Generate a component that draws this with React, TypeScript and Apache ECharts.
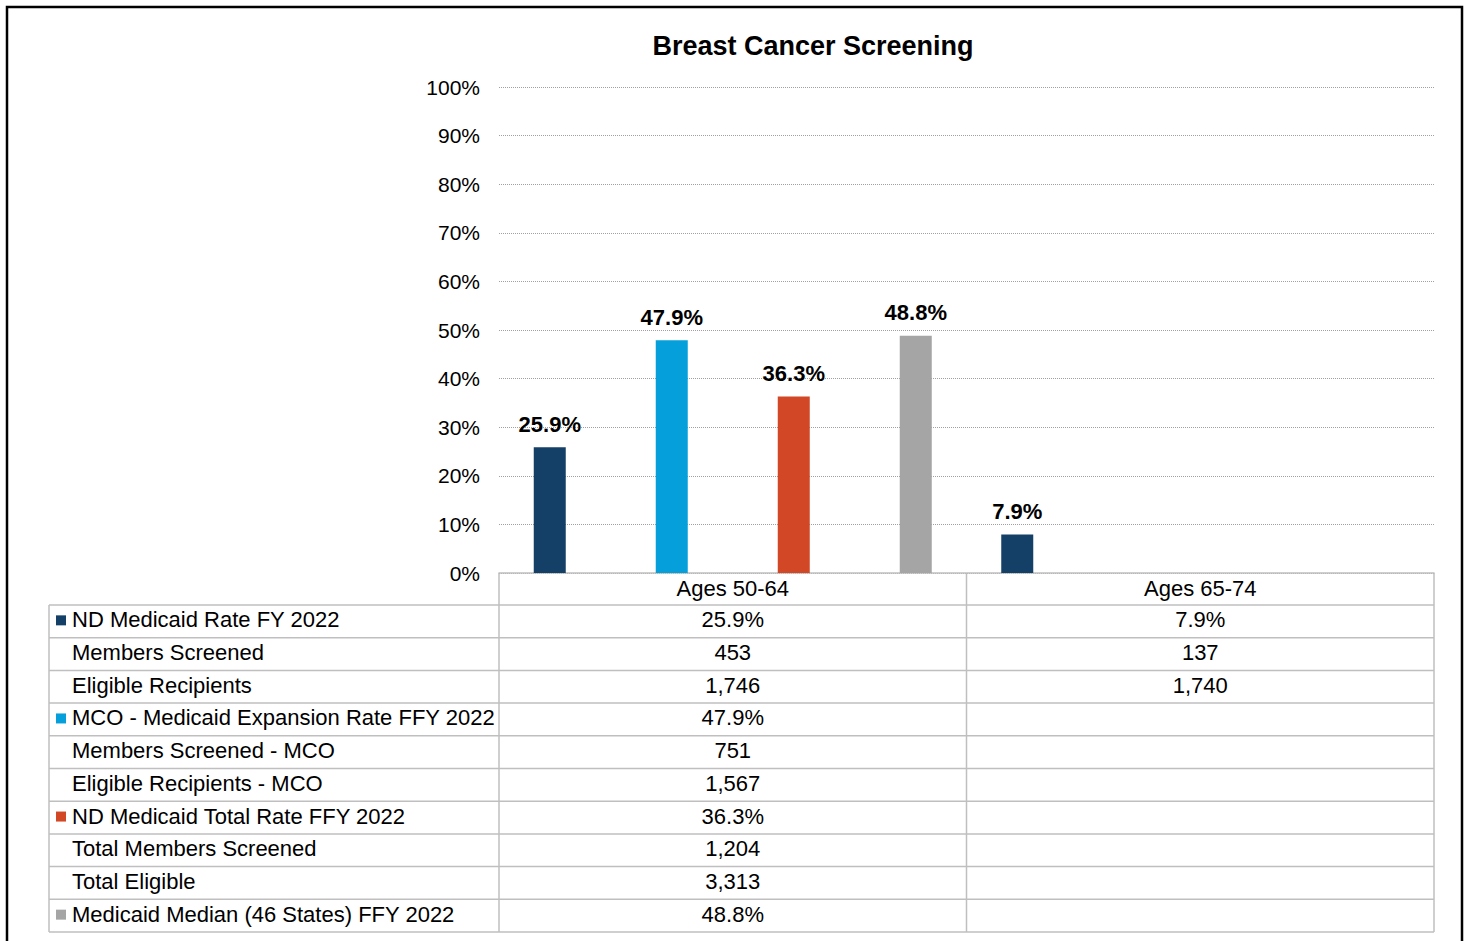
import React, { useEffect, useRef } from "react";
import * as echarts from "echarts";

const categories = ["Ages 50-64", "Ages 65-74"];
const ndRate = [25.9, 7.9];
const ndScreened = [453, 137];
const ndEligible = [1746, 1740];
const mcoRate = [47.9, null];
const mcoScreened = [751, null];
const mcoEligible = [1567, null];
const totalRate = [36.3, null];
const totalScreened = [1204, null];
const totalEligible = [3313, null];
const medianRate = [48.8, null];
const yTicks = [0, 10, 20, 30, 40, 50, 60, 70, 80, 90, 100];

const seriesNames = [
  "ND Medicaid Rate FY 2022",
  "MCO - Medicaid Expansion Rate FFY 2022",
  "ND Medicaid Total Rate FFY 2022",
  "Medicaid Median (46 States) FFY 2022",
];
const colors = ["#143F67", "#05A0DB", "#D24726", "#A5A5A5"];

const FONT = "'Liberation Sans', Arial, sans-serif";

const fmtRate = (v: number | null) => (v == null ? "" : v.toFixed(1) + "%");
const fmtCount = (v: number | null) => (v == null ? "" : v.toLocaleString("en-US"));

const tableRows: { label: string; key: number | null; values: string[] }[] = [
  { label: "ND Medicaid Rate FY 2022", key: 0, values: ndRate.map(fmtRate) },
  { label: "Members Screened", key: null, values: ndScreened.map(fmtCount) },
  { label: "Eligible Recipients", key: null, values: ndEligible.map(fmtCount) },
  { label: "MCO - Medicaid Expansion Rate FFY 2022", key: 1, values: mcoRate.map(fmtRate) },
  { label: "Members Screened - MCO", key: null, values: mcoScreened.map(fmtCount) },
  { label: "Eligible Recipients - MCO", key: null, values: mcoEligible.map(fmtCount) },
  { label: "ND Medicaid Total Rate FFY 2022", key: 2, values: totalRate.map(fmtRate) },
  { label: "Total Members Screened", key: null, values: totalScreened.map(fmtCount) },
  { label: "Total Eligible", key: null, values: totalEligible.map(fmtCount) },
  { label: "Medicaid Median (46 States) FFY 2022", key: 3, values: medianRate.map(fmtRate) },
];

export default function App() {
  const ref = useRef<HTMLDivElement>(null);
  useEffect(() => {
    if (!ref.current) return;
    const chart = echarts.init(ref.current, null, { renderer: "svg" });

    const W = 1470;
    const H = 941;
    const gridLeft = 499;
    const gridRight = 1434;
    const gridTop = 87;
    const gridBottom = 573;
    const tableLeft = 49;
    const headerBottom = 605;
    const rowH = 32.7;
    const lineColor = "#BFBFBF";
    const colW = (gridRight - gridLeft) / categories.length;

    const graphics: any[] = [];
    graphics.push({
      type: "rect",
      shape: { x: 7, y: 7, width: 1455, height: 945 },
      style: { fill: "none", stroke: "#000", lineWidth: 2.5 },
      silent: true,
    });
    for (let i = 0; i <= tableRows.length; i++) {
      const y = headerBottom + i * rowH;
      graphics.push({
        type: "line",
        shape: { x1: tableLeft, y1: y, x2: gridRight, y2: y },
        style: { stroke: lineColor, lineWidth: 1.5 },
        silent: true,
      });
    }
    const tableBottom = headerBottom + tableRows.length * rowH;
    graphics.push({
      type: "line",
      shape: { x1: tableLeft, y1: headerBottom, x2: tableLeft, y2: tableBottom },
      style: { stroke: lineColor, lineWidth: 1.5 },
      silent: true,
    });
    for (let c = 0; c <= categories.length; c++) {
      const x = gridLeft + c * colW;
      graphics.push({
        type: "line",
        shape: { x1: x, y1: gridBottom, x2: x, y2: tableBottom },
        style: { stroke: lineColor, lineWidth: 1.5 },
        silent: true,
      });
    }
    tableRows.forEach((row, i) => {
      const cy = headerBottom + i * rowH + rowH / 2 - 1.5;
      if (row.key != null) {
        graphics.push({
          type: "rect",
          shape: { x: 56, y: cy - 4.5, width: 10, height: 10 },
          style: { fill: colors[row.key] },
          silent: true,
        });
      }
      graphics.push({
        type: "text",
        x: 72,
        y: cy,
        style: {
          text: row.label,
          fontSize: 22,
          fontFamily: FONT,
          fill: "#000",
          textAlign: "left",
          textVerticalAlign: "middle",
        },
        silent: true,
      });
      row.values.forEach((v, c) => {
        if (!v) return;
        graphics.push({
          type: "text",
          x: gridLeft + c * colW + colW / 2,
          y: cy,
          style: {
            text: v,
            fontSize: 22,
            fontFamily: FONT,
            fill: "#000",
            textAlign: "center",
            textVerticalAlign: "middle",
          },
          silent: true,
        });
      });
    });

    const seriesData = [ndRate, mcoRate, totalRate, medianRate];

    chart.setOption({
      animation: false,
      backgroundColor: "#fff",
      title: {
        text: "Breast Cancer Screening",
        left: 808,
        top: 27,
        textAlign: "center",
        textStyle: { fontSize: 27, fontWeight: "bold", fontFamily: FONT, color: "#000" },
      },
      grid: {
        left: gridLeft,
        right: W - gridRight,
        top: gridTop,
        bottom: H - gridBottom,
        containLabel: false,
      },
      xAxis: {
        type: "category",
        data: categories,
        axisLine: { show: true, lineStyle: { color: lineColor, width: 1.5 } },
        axisTick: { show: false },
        axisLabel: { fontSize: 22, fontFamily: FONT, color: "#000", margin: 4 },
      },
      yAxis: {
        type: "value",
        min: yTicks[0],
        max: yTicks[yTicks.length - 1],
        interval: yTicks[1] - yTicks[0],
        axisLine: { show: false },
        axisTick: { show: false },
        axisLabel: {
          formatter: "{value}%",
          fontSize: 21,
          fontFamily: FONT,
          color: "#000",
          margin: 19,
          padding: [0, 0, 4, 0],
        },
        splitLine: { lineStyle: { color: "#A0A0A0", type: "dotted", width: 1 } },
      },
      series: seriesData.map((d, i) => ({
        name: seriesNames[i],
        type: "bar",
        data: d,
        barWidth: 32,
        barGap: "281.25%",
        itemStyle: { color: colors[i] },
        label: {
          show: true,
          position: "top",
          distance: 12,
          formatter: (p: any) => fmtRate(p.value),
          fontSize: 22,
          fontWeight: "bold",
          fontFamily: FONT,
          color: "#000",
        },
      })),
      graphic: graphics,
    });
    return () => chart.dispose();
  }, []);
  return (
    <div
      ref={ref}
      style={{ position: "fixed", left: 0, top: 0, width: 1470, height: 941 }}
    />
  );
}
